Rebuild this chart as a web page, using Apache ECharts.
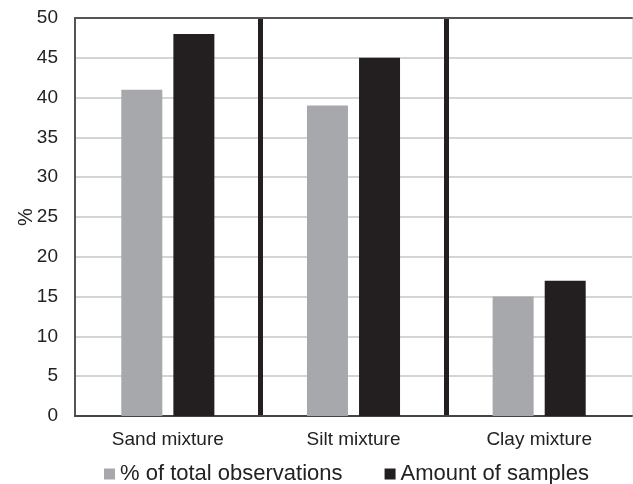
<!DOCTYPE html>
<html><head><meta charset="utf-8">
<script src="https://cdn.jsdelivr.net/npm/echarts@6/dist/echarts.min.js"></script>
<style>html,body{margin:0;padding:0;background:#fff}#c{width:633px;height:484px}</style>
</head><body><div id="c"></div>
<script>
const categories = ['Sand mixture', 'Silt mixture', 'Clay mixture'];
const seriesNames = ['% of total observations', 'Amount of samples'];
const totalObservations = [41, 39, 15];
const amountOfSamples = [48, 45, 17];
const yTicks = { min: 0, max: 50, interval: 5 };
const FONT = '"Liberation Sans", Arial, sans-serif';

const chart = echarts.init(document.getElementById('c'));
chart.setOption({
  animation: false,
  textStyle: { fontFamily: FONT },
  grid: { left: 75, top: 18, right: 1, bottom: 68, containLabel: false },
  legend: {
    bottom: -6, left: 99,
    itemWidth: 11, itemHeight: 11, itemGap: 42,
    data: seriesNames,
    textStyle: { fontSize: 22, color: '#222', fontFamily: FONT, padding: [0, 0, 0, 0] },
    icon: 'rect'
  },
  xAxis: [{
    type: 'category', data: categories,
    axisLine: { lineStyle: { color: '#444', width: 2 } },
    axisTick: { show: false },
    axisLabel: { fontSize: 19, color: '#222', margin: 14, fontFamily: FONT },
    splitLine: { show: false }
  }, {
    type: 'value', position: 'top', min: 0, max: categories.length, interval: 1,
    axisLine: { show: true, onZero: false, lineStyle: { color: '#555', width: 2 } },
    axisTick: { show: false }, axisLabel: { show: false },
    splitLine: { show: true, showMinLine: false, showMaxLine: false, lineStyle: { color: '#231f20', width: 5 } }
  }],
  yAxis: [{
    type: 'value', min: yTicks.min, max: yTicks.max, interval: yTicks.interval,
    name: '%', nameLocation: 'middle', nameGap: 39, nameRotate: 90, nameMoveOverlap: false,
    nameTextStyle: { fontSize: 20, color: '#222', fontFamily: FONT },
    axisLine: { show: true, lineStyle: { color: '#555', width: 2 } },
    axisTick: { show: false },
    axisLabel: { fontSize: 19, color: '#222', margin: 17, fontFamily: FONT },
    splitLine: { show: true, lineStyle: { color: '#d4d4d4', width: 2 } }
  }, {
    type: 'value', position: 'right', min: yTicks.min, max: yTicks.max, interval: yTicks.interval,
    axisLine: { show: true, lineStyle: { color: '#e2e2e2', width: 1 } },
    axisTick: { show: false }, axisLabel: { show: false }, splitLine: { show: false }
  }],
  series: [{
    name: seriesNames[0], type: 'bar', data: totalObservations,
    barWidth: 41, barGap: '27%',
    itemStyle: { color: '#a7a8ab' }
  }, {
    name: seriesNames[1], type: 'bar', data: amountOfSamples,
    barWidth: 41, barGap: '27%',
    itemStyle: { color: '#231f20' }
  }]
});
</script></body></html>
